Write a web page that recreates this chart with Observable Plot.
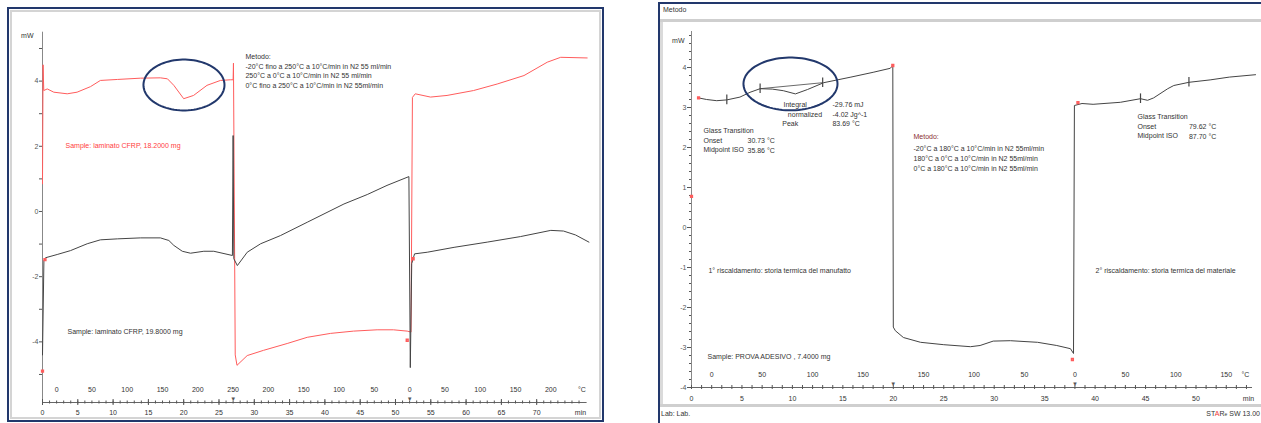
<!DOCTYPE html>
<html><head><meta charset="utf-8">
<script src="https://cdn.jsdelivr.net/npm/d3@7"></script>
<script src="https://cdn.jsdelivr.net/npm/@observablehq/plot@0.6"></script>
<style>
html,body{margin:0;padding:0;background:#fff;}
#wrap{position:relative;width:1261px;height:423px;overflow:hidden;background:#fff;font-family:"Liberation Sans",Arial,sans-serif;}
#wrap .box{position:absolute;box-sizing:border-box;}
#wrap svg{position:absolute;left:0;top:0;}
.lbl{position:absolute;font-size:7px;color:#333;white-space:nowrap;line-height:1;}
</style></head><body>
<div id="wrap">
 <div class="box" style="left:7px;top:7px;width:597px;height:415px;border:2px solid #22386c"></div>
 <div class="box" style="left:10px;top:10px;width:591px;height:409px;border:2px solid #d4d4d4"></div>
 <div class="box" style="left:658px;top:2px;width:640px;height:440px;border:2px solid #22386c"></div>
 <div class="box" style="left:660px;top:19px;width:601px;height:3px;background:#cfcfcf"></div>
 <div class="box" style="left:660px;top:404px;width:601px;height:3px;background:#cfcfcf"></div>
 <div class="box" style="left:660px;top:22px;width:3px;height:382px;background:#dadada"></div>
 <div class="lbl" style="left:663px;top:6px">Metodo</div>
 <div class="lbl" style="left:661px;top:410px">Lab: Lab.</div>
 <div class="lbl" style="right:1px;top:410px">ST<span style="color:#e33">A</span>R<span style="font-size:5px">e</span> SW 13.00</div>
</div>
<script>
// ---------------- DATA (left chart: laminato CFRP) ----------------
const leftRedT = [0, 0.08, 0.18, 0.67, 1.6, 3.5, 4.9, 6.8, 8.2, 10.6, 13.9, 16.7, 17.7, 18.6, 20.0, 21.4, 23.3, 25.2, 26.6, 27.0, 27.05, 27.3, 27.55, 29.0, 31.3, 34.66, 37.5, 40.8, 44.05, 47.4, 49.7, 51.66, 52.2, 52.4, 52.8, 54.96, 57.3, 61.05, 64.4, 68.2, 71.5, 73.4, 77.15];
const leftRedV = [0.85, 4.5, 3.71, 3.76, 3.66, 3.61, 3.66, 3.83, 4.02, 4.05, 4.09, 4.1, 4.07, 3.87, 3.46, 3.56, 3.87, 4.02, 4.04, 4.04, 4.55, -4.4, -4.72, -4.42, -4.26, -4.05, -3.86, -3.74, -3.67, -3.63, -3.63, -3.67, -3.7, 3.5, 3.61, 3.51, 3.56, 3.71, 3.91, 4.17, 4.58, 4.73, 4.71];
const leftBlackT = [0, 0.2, 0.42, 2.08, 3.97, 6.33, 8.2, 10.6, 13.9, 16.7, 17.9, 18.6, 19.8, 20.96, 22.85, 24.26, 26.9, 27.0, 27.1, 27.6, 29.0, 30.9, 33.7, 37.5, 42.7, 46.0, 48.8, 51.9, 52.1, 52.3, 52.7, 54.5, 58.3, 63.0, 67.7, 72.0, 73.8, 75.5, 77.4];
const leftBlackV = [-4.4, -1.5, -1.42, -1.32, -1.2, -0.99, -0.87, -0.84, -0.81, -0.81, -0.89, -1.04, -1.22, -1.28, -1.22, -1.22, -1.35, 2.33, -1.45, -1.66, -1.25, -0.99, -0.74, -0.33, 0.23, 0.52, 0.8, 1.07, -4.79, -1.6, -1.3, -1.25, -1.1, -0.94, -0.77, -0.58, -0.6, -0.72, -0.94];
const leftMarkT = [0.35, 0.0, 51.66, 52.5];
const leftMarkV = [-1.48, -4.9, -3.95, -1.45];
const leftYTicks = [-5, -4, -3, -2, -1, 0, 1, 2, 3, 4, 5];
const leftMinorTicks = d3.range(0, 77, 1);
const leftMinTimes = [0, 5, 10, 15, 20, 25, 30, 35, 40, 45, 50, 55, 60, 65, 70, 76.2];
const leftMinLabels = ["0", "5", "10", "15", "20", "25", "30", "35", "40", "45", "50", "55", "60", "65", "70", "min"];
const leftTempTimes = [2, 7, 12, 17, 22, 27, 32, 37, 42, 47, 52, 57, 62, 67, 72, 76.4];
const leftTempLabels = ["0", "50", "100", "150", "200", "250", "200", "150", "100", "50", "0", "50", "100", "150", "200", "°C"];
const leftSegEnds = [27, 52];
const leftSampleRed = "Sample: laminato CFRP, 18.2000 mg";
const leftSampleBlack = "Sample: laminato CFRP, 19.8000 mg";
const leftMethod = "Metodo:\n-20°C fino a 250°C a 10°C/min in N2 55 ml/min\n250°C a 0°C a 10°C/min in N2 55 ml/min\n0°C fino a 250°C a 10°C/min in N2 55ml/min";

// ---------------- DATA (right chart: PROVA ADESIVO) ----------------
const rightT = [0.7, 1.5, 2.5, 3.5, 4.8, 5.8, 6.8, 8.0, 9.1, 10.3, 11.5, 13.1, 15.8, 18.0, 19.7, 19.95, 20.0, 20.2, 21.0, 22.7, 25.0, 27.65, 28.6, 29.9, 31.6, 34.3, 36.2, 37.56, 37.86, 37.95, 38.7, 39.8, 42.5, 44.5, 45.2, 45.8, 47.2, 47.8, 49.3, 51.4, 53.3, 55.9];
const rightV = [3.24, 3.2, 3.17, 3.19, 3.26, 3.38, 3.47, 3.46, 3.42, 3.34, 3.45, 3.62, 3.76, 3.88, 3.98, 4.05, -2.49, -2.58, -2.75, -2.87, -2.93, -2.98, -2.95, -2.84, -2.83, -2.87, -2.95, -3.03, -3.15, 3.05, 3.1, 3.08, 3.13, 3.22, 3.18, 3.24, 3.47, 3.55, 3.63, 3.69, 3.76, 3.82];
const rightBaseT = [6.8, 13.0];
const rightBaseV = [3.47, 3.62];
const rightBarT = [3.5, 6.8, 13.0, 44.5, 49.3];
const rightBarV = [3.19, 3.47, 3.62, 3.22, 3.63];
const rightMarkT = [0.7, 19.95, 37.75, 38.3, 0.0];
const rightMarkV = [3.24, 4.05, -3.3, 3.12, 0.78];
const rightYTicks = [-4, -3, -2, -1, 0, 1, 2, 3, 4];
const rightYMinor = d3.range(-4, 4.85, 0.2);
const rightMinorTicks = d3.range(0, 56, 1);
const rightMinTimes = [0, 5, 10, 15, 20, 25, 30, 35, 40, 45, 50, 55.2];
const rightMinLabels = ["0", "5", "10", "15", "20", "25", "30", "35", "40", "45", "50", "min"];
const rightTempTimes = [2, 7, 12, 17, 23, 28, 33, 38, 43, 48, 53, 54.9];
const rightTempLabels = ["0", "50", "100", "150", "150", "100", "50", "0", "50", "100", "150", "°C"];
const rightSegEnds = [20, 38];
const rightSample = "Sample: PROVA ADESIVO , 7.4000 mg";
const rightHeat1 = "1° riscaldamento: storia termica del manufatto";
const rightHeat2 = "2° riscaldamento: storia termica del materiale";
const rightMethodTitle = "Metodo:";
const rightMethod = "-20°C a 180°C a 10°C/min in N2 55ml/min\n180°C a 0°C a 10°C/min in N2 55ml/min\n0°C a 180°C a 10°C/min in N2 55ml/min";
const integralLabels = ["Integral", "normalized", "Peak"];
const integralValues = ["-29.76 mJ", "-4.02 Jg^-1", "83.69 °C"];
const glass1Labels = "Glass Transition\nOnset\nMidpoint ISO";
const glass1Values = "30.73 °C\n35.86 °C";
const glass2Labels = "Glass Transition\nOnset\nMidpoint ISO";
const glass2Values = "79.62 °C\n87.70 °C";

// ---------------- helpers ----------------
const W = 1261, H = 423;
const RED = "#ff5c5c", BLACK = "#444", NAVY = "#22386c", TXT = "#333";
const table = (ts, vs) => ts.map((t, i) => ({t, v: vs[i]}));
const ellipse = c => d3.range(0, 360, 4).map(a => ({t: c.t + c.rt * Math.cos(a * Math.PI / 180), v: c.v + c.rv * Math.sin(a * Math.PI / 180)}));
const note = (text, t, v, o = {}) => Plot.text([text], {x: t, y: v, text: d => d, textAnchor: "start", fontSize: 7, fill: TXT, ...o});
const style = {background: "transparent", overflow: "visible", fontFamily: "Liberation Sans, Arial, sans-serif", fontSize: "7px", color: "#555"};

// ---------------- left chart ----------------
const left = Plot.plot({
  width: W, height: H,
  marginLeft: 42, marginRight: W - 585.6, marginTop: 31.7, marginBottom: 21,
  x: {domain: [0, 77]},
  y: {domain: [-5.86, 5.5]},
  style,
  marks: [
    Plot.ruleX([0], {stroke: "#888"}),
    Plot.axisY({ticks: leftYTicks, tickFormat: d => d % 2 === 0 ? String(d) : "", tickSize: 3, tickPadding: 1, fontSize: 7, label: null}),
    Plot.text(["mW"], {frameAnchor: "top-left", dx: -9, dy: 1, textAnchor: "end", fontSize: 7, fill: TXT}),
    Plot.frame({anchor: "bottom", stroke: "#666"}),
    Plot.axisX({ticks: leftMinorTicks, tickSize: 3, dy: -1.5, tickFormat: () => "", label: null}),
    Plot.axisX({ticks: leftMinTimes.slice(0, -1), tickSize: 6, dy: -3, tickFormat: () => "", label: null}),
    Plot.text(leftTempTimes, {x: d => d, text: (d, i) => leftTempLabels[i], frameAnchor: "bottom", dy: -11, fontSize: 7, fill: TXT}),
    Plot.text(leftMinTimes, {x: d => d, text: (d, i) => leftMinLabels[i], frameAnchor: "bottom", dy: 12, fontSize: 7, fill: TXT}),
    Plot.text(leftSegEnds, {x: d => d, text: () => "▼", frameAnchor: "bottom", dy: -2, fontSize: 6, fill: "#555"}),
    Plot.line(table(leftRedT, leftRedV), {x: "t", y: "v", stroke: RED, strokeWidth: 1}),
    Plot.line(table(leftBlackT, leftBlackV), {x: "t", y: "v", stroke: BLACK, strokeWidth: 1}),
    Plot.dot(table(leftMarkT, leftMarkV), {x: "t", y: "v", symbol: "square", r: 1, stroke: RED, fill: "none"}),
    Plot.line(ellipse({t: 20.04, v: 3.88, rt: 5.74, rv: 0.78}), {x: "t", y: "v", stroke: NAVY, strokeWidth: 2, curve: "linear-closed"}),
    note(leftSampleRed, 3.26, 2.02, {fill: "#ff4040"}),
    note(leftSampleBlack, 3.54, -3.68),
    note(leftMethod, 28.75, 4.89, {lineAnchor: "top", lineHeight: 1.38})
  ]
});

// ---------------- right chart ----------------
const right = Plot.plot({
  width: W, height: H,
  marginLeft: 691, marginRight: W - 1251, marginTop: 31, marginBottom: H - 387,
  x: {domain: [0, 55.5]},
  y: {domain: [-4, 4.9]},
  style,
  marks: [
    Plot.ruleX([0], {stroke: "#888"}),
    Plot.axisY({ticks: rightYMinor, tickSize: 2, tickFormat: () => "", label: null}),
    Plot.axisY({ticks: rightYTicks, tickFormat: d => String(d), tickSize: 4, tickPadding: 1, fontSize: 7, label: null}),
    Plot.text(["mW"], {frameAnchor: "top-left", dx: -7, dy: 7, textAnchor: "end", fontSize: 7, fill: TXT}),
    Plot.frame({anchor: "bottom", stroke: "#666"}),
    Plot.axisX({ticks: rightMinorTicks, tickSize: 4, dy: -2, tickFormat: () => "", label: null}),
    Plot.text(rightTempTimes, {x: d => d, text: (d, i) => rightTempLabels[i], frameAnchor: "bottom", dy: -10.5, fontSize: 7, fill: TXT}),
    Plot.text(rightMinTimes, {x: d => d, text: (d, i) => rightMinLabels[i], frameAnchor: "bottom", dy: 13, fontSize: 7, fill: TXT}),
    Plot.text(rightSegEnds, {x: d => d, text: () => "▼", frameAnchor: "bottom", dy: -2, fontSize: 6, fill: "#555"}),
    Plot.line(table(rightT, rightV), {x: "t", y: "v", stroke: BLACK, strokeWidth: 1}),
    Plot.line(table(rightBaseT, rightBaseV), {x: "t", y: "v", stroke: BLACK, strokeWidth: 0.8}),
    Plot.ruleX(table(rightBarT, rightBarV), {x: "t", y1: d => d.v - 0.12, y2: d => d.v + 0.12, stroke: BLACK, strokeWidth: 1.2}),
    Plot.dot(table(rightMarkT, rightMarkV), {x: "t", y: "v", symbol: "square", r: 1, stroke: RED, fill: "none"}),
    Plot.line(ellipse({t: 9.81, v: 3.59, rt: 4.66, rv: 0.66}), {x: "t", y: "v", stroke: NAVY, strokeWidth: 2, curve: "linear-closed"}),
    note(integralLabels[0], 9.12, 3.075),
    note(integralLabels[1], 9.55, 2.825),
    note(integralLabels[2], 9.0, 2.6),
    note(integralValues[0], 13.97, 3.075),
    note(integralValues[1], 13.97, 2.825),
    note(integralValues[2], 13.97, 2.6),
    note(glass1Labels, 1.19, 2.54, {lineAnchor: "top", lineHeight: 1.4}),
    note(glass1Values, 5.55, 2.29, {lineAnchor: "top", lineHeight: 1.4}),
    note(glass2Labels, 44.2, 2.89, {lineAnchor: "top", lineHeight: 1.4}),
    note(glass2Values, 49.3, 2.64, {lineAnchor: "top", lineHeight: 1.4}),
    note(rightMethodTitle, 22.0, 2.27, {fill: "#8a3030"}),
    note(rightMethod, 22.0, 2.1, {lineAnchor: "top", lineHeight: 1.47}),
    note(rightHeat1, 1.68, -1.075),
    note(rightHeat2, 40.04, -1.075),
    note(rightSample, 1.59, -3.225)
  ]
});

const wrap = document.getElementById("wrap");
wrap.appendChild(left);
wrap.appendChild(right);
</script>
</body></html>
